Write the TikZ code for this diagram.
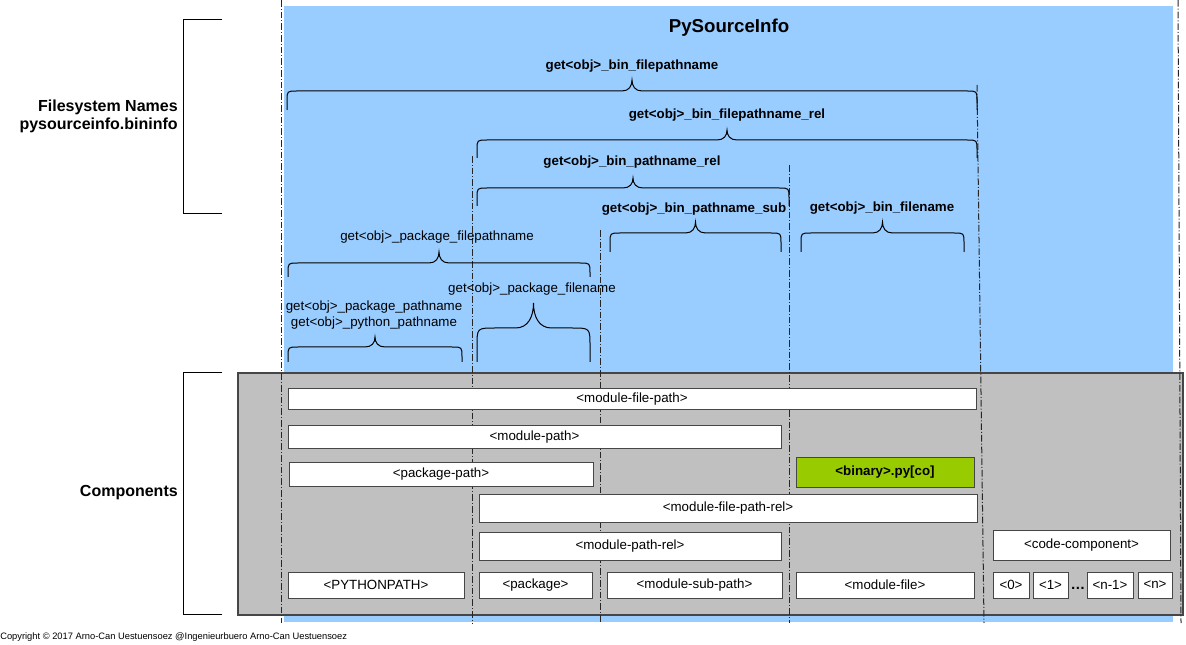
\documentclass[tikz,border=0pt]{standalone}
\usepackage{fontspec}
\setmainfont{Liberation Sans}
\usetikzlibrary{positioning}
\definecolor{skyblue}{RGB}{153,204,255}
\definecolor{compgray}{RGB}{192,192,192}
\definecolor{bingreen}{RGB}{153,204,0}
\definecolor{edgegray}{RGB}{70,70,70}

\tikzset{
  guide/.style={line width=0.75pt, black!85, dash pattern=on 5pt off 1.5pt on 0.75pt off 1.5pt},
  apibr/.style={line width=0.75pt, black},
  comp/.style={draw=edgegray, fill=white, line width=0.75pt},
  getter/.style={inner sep=0pt, align=center},
  binget/.style={getter, font=\fontsize{10}{12}\selectfont\bfseries},
  side/.style={inner sep=0pt, align=right, anchor=east, font=\fontsize{12}{13.5}\selectfont\bfseries},
}

% brace with legs: [radius]{x1}{x2}{ybar}{ytip}{yend}
\newcommand{\apibrace}[6][10]{%
  \pgfmathsetmacro{\brmid}{(#2+#3)/2}%
  \pgfmathsetmacro{\brctl}{#4-0.45*(#4-#5)}%
  \draw[apibr] (#2,#6) -- (#2,#4+#1) .. controls (#2,#4) .. (#2+#1,#4)
    -- (\brmid-#1,#4) .. controls (\brmid-0.3*#1,#4) and (\brmid,\brctl) .. (\brmid,#5)
    .. controls (\brmid,\brctl) and (\brmid+0.3*#1,#4) .. (\brmid+#1,#4)
    -- (#3-#1,#4) .. controls (#3,#4) .. (#3,#4+#1) -- (#3,#6);}

\begin{document}
\begin{tikzpicture}[x=0.75pt, y=-0.75pt, font=\fontsize{10}{12}\selectfont]
    \useasboundingbox (0,0) rectangle (1186,645);

    % background areas
    \fill[skyblue] (284,6) rectangle (1173,622);
    \draw[fill=compgray, draw=edgegray, line width=1.1pt] (238,373) rectangle (1183,615);

    % column guides
    \draw[guide] (281,0) -- (281,623);
    \draw[guide] (472,156) -- (472,623);
    \draw[guide] (600,230) -- (600,623);
    \draw[guide] (789,165) -- (789,623);
    \draw[guide] (977,85) -- (984,623);
    \draw[guide] (1178,0) -- (1181,623);

    \node[font=\fontsize{14}{17}\selectfont\bfseries] (title) at (729,28) {PySourceInfo};

    % side brackets
    \draw[apibr] (222,20) -- (183,20) -- (183,214) -- (222,214);
    \node[side] (fsnames) at (178,116) {Filesystem Names\\pysourceinfo.bininfo};
    \draw[apibr] (222,373) -- (183,373) -- (183,614) -- (222,614);
    \node[side] (components) at (178,493) {Components};

    % binary getters
    \node[binget] (binfpn) at (632,66) {get<obj>\_bin\_filepathname};
    \apibrace{287}{977}{91}{80}{110}
    \node[binget] (binfpnrel) at (727,115) {get<obj>\_bin\_filepathname\_rel};
    \apibrace{477}{977}{140}{130}{158}
    \node[binget] (binpnrel) at (632,162) {get<obj>\_bin\_pathname\_rel};
    \apibrace{477}{789}{188}{178}{206}
    \node[binget] (binpnsub) at (694,209) {get<obj>\_bin\_pathname\_sub};
    \apibrace{610}{781}{233}{222}{252}
    \node[binget] (binfn) at (882,208) {get<obj>\_bin\_filename};
    \apibrace{801}{964}{233}{222}{252}

    % package getters
    \node[getter] (pkgfpn) at (437,237) {get<obj>\_package\_filepathname};
    \apibrace{288}{590}{263}{252}{277}
    \node[getter] (pkgfn) at (532,289) {get<obj>\_package\_filename};
    \apibrace[18]{477}{590}{328}{303}{362}
    \node[getter] (pkgpn) at (374,315) {get<obj>\_package\_pathname\\get<obj>\_python\_pathname};
    \apibrace{288}{462}{347}{337}{362}

    % components
    \draw[comp] (288,389) rectangle (976,410) node[midway] (mfp) {<module-file-path>};
    \draw[comp] (288,426) rectangle (781,448) node[midway] (mp) {<module-path>};
    \draw[comp] (289,462) rectangle (593,486) node[midway] (pp) {<package-path>};
    \draw[comp, fill=bingreen] (796,457) rectangle (974,487) node[midway, font=\fontsize{10}{12}\selectfont\bfseries] (binary) {<binary>.py[co]};
    \draw[comp] (479,494) rectangle (977,522) node[midway] (mfprel) {<module-file-path-rel>};
    \draw[comp] (479,532) rectangle (781,560) node[midway] (mprel) {<module-path-rel>};
    \draw[comp] (993,530) rectangle (1170,560) node[midway] (codecomp) {<code-component>};

    \draw[comp] (288,572) rectangle (464,598) node[midway] (pypath) {<PYTHONPATH>};
    \draw[comp] (479,572) rectangle (592,598) node[midway] (pkg) {<package>};
    \draw[comp] (607,572) rectangle (782,598) node[midway] (msp) {<module-sub-path>};
    \draw[comp] (796,572) rectangle (974,598) node[midway] (mf) {<module-file>};
    \draw[comp] (993,572) rectangle (1029,598) node[midway] (c0) {<0>};
    \draw[comp] (1033,572) rectangle (1068,598) node[midway] (c1) {<1>};
    \node[font=\fontsize{11}{12}\selectfont\bfseries] (cdots) at (1078,588) {\ldots};
    \draw[comp] (1087,572) rectangle (1133,598) node[midway] (cn1) {<n-1>};
    \draw[comp] (1138,572) rectangle (1172,598) node[midway] (cn) {<n>};

    \node[anchor=west, inner sep=0pt, font=\fontsize{7}{8}\selectfont] (copyright) at (0,637) {Copyright \textcopyright{} 2017 Arno-Can Uestuensoez @Ingenieurbuero Arno-Can Uestuensoez};
\end{tikzpicture}
\end{document}
